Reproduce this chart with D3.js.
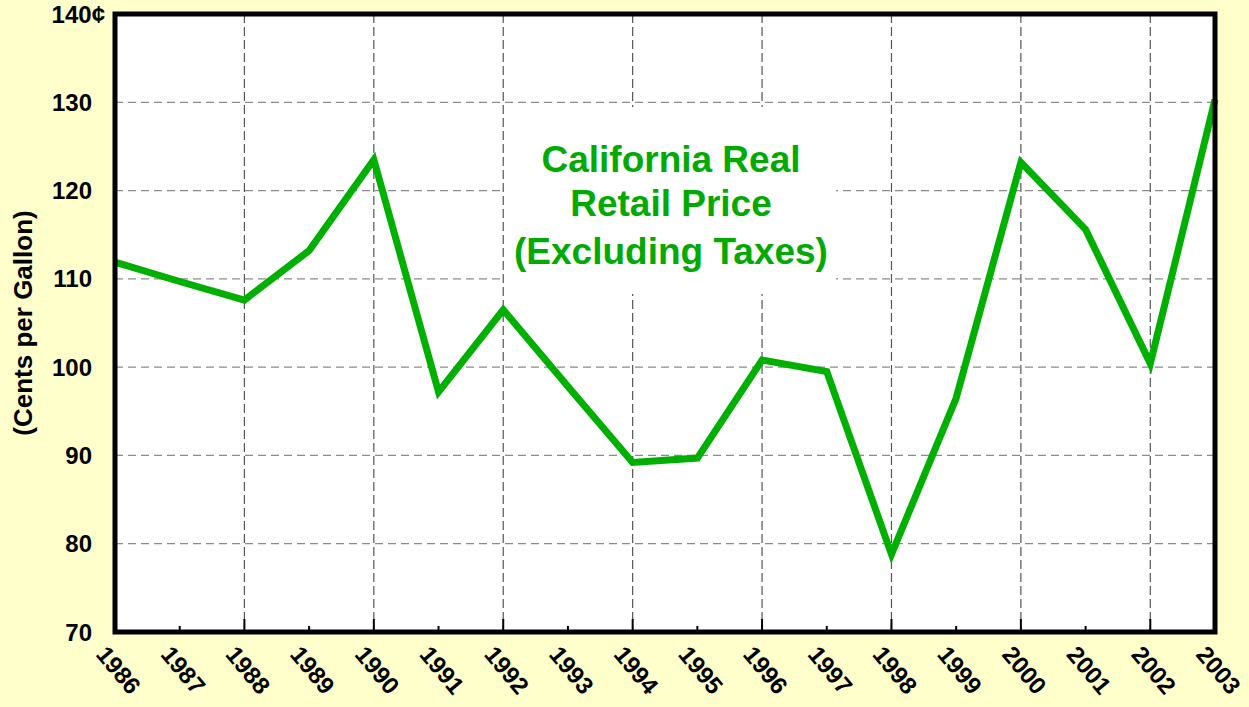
<!DOCTYPE html>
<html>
<head>
<meta charset="utf-8">
<script src="https://cdn.jsdelivr.net/npm/d3@7"></script>
<style>
  body { margin: 0; background: #ffffcc; }
  text { font-family: "Liberation Sans", Arial, sans-serif; font-weight: bold; }
</style>
</head>
<body>
<div id="chart"></div>
<script>
// data
var years = [1986, 1987, 1988, 1989, 1990, 1991, 1992, 1993, 1994, 1995,
             1996, 1997, 1998, 1999, 2000, 2001, 2002, 2003];
var prices = [111.9, 109.7, 107.6, 113.2, 123.5, 97.2, 106.5, 97.8, 89.2, 89.7,
              100.8, 99.5, 78.8, 96.5, 123.2, 115.6, 100.4, 130.3];
var yTicks = [70, 80, 90, 100, 110, 120, 130, 140];
var titleLines = ["California Real", "Retail Price", "(Excluding Taxes)"];

var W = 1249, H = 707;
var margin = {top: 14, right: 34, bottom: 75, left: 115},
    w = W - margin.left - margin.right,
    h = H - margin.top - margin.bottom;

var svg = d3.select("#chart").append("svg")
    .attr("width", W)
    .attr("height", H);

svg.append("rect").attr("width", W).attr("height", H).attr("fill", "#ffffcc");

var g = svg.append("g")
    .attr("transform", "translate(" + margin.left + "," + margin.top + ")");

var x = d3.scaleLinear().domain([1986, 2003]).range([0, w]);
var y = d3.scaleLinear().domain([70, 140]).range([h, 0]);

// plot background
g.append("rect").attr("width", w).attr("height", h).attr("fill", "white");

// horizontal grid
g.selectAll(".hgrid")
  .data(yTicks.filter(function(d) { return d > 70 && d < 140; }))
  .enter().append("line")
    .attr("x1", 0).attr("x2", w)
    .attr("y1", function(d) { return y(d); })
    .attr("y2", function(d) { return y(d); })
    .attr("stroke", "#8c8c8c")
    .attr("stroke-width", 1.2)
    .attr("stroke-dasharray", "8,5");

// vertical grid, every second year
g.selectAll(".vgrid")
  .data(years.filter(function(d) { return d % 2 == 0 && d > 1986 && d < 2003; }))
  .enter().append("line")
    .attr("x1", function(d) { return x(d); })
    .attr("x2", function(d) { return x(d); })
    .attr("y1", 0).attr("y2", h)
    .attr("stroke", "#555")
    .attr("stroke-width", 1.2)
    .attr("stroke-dasharray", "9,4");

// white box behind the title
g.append("rect")
  .attr("x", 390).attr("y", 93)
  .attr("width", 331).attr("height", 187)
  .attr("fill", "white");

// title
g.append("text")
  .attr("x", 556)
  .attr("y", 158)
  .attr("text-anchor", "middle")
  .attr("fill", "#00aa00")
  .style("font-size", "37px")
  .selectAll("tspan")
  .data(titleLines)
  .enter().append("tspan")
    .attr("x", 556)
    .attr("dy", function(d, i) { return i == 0 ? 0 : (i == 1 ? 44 : 48); })
    .text(function(d) { return d; });

// the line
g.append("path")
  .datum(years)
  .attr("fill", "none")
  .attr("stroke", "#00b000")
  .attr("stroke-width", 7)
  .attr("stroke-linejoin", "miter")
  .attr("d", d3.line()
    .x(function(d) { return x(d); })
    .y(function(d, i) { return y(prices[i]); }));

// bottom ticks
g.selectAll(".xtick")
  .data(years)
  .enter().append("line")
    .attr("x1", function(d) { return x(d); })
    .attr("x2", function(d) { return x(d); })
    .attr("y1", h)
    .attr("y2", function(d) { return d % 2 == 0 ? h - 13 : h - 6; })
    .attr("stroke", "black")
    .attr("stroke-width", 2);

// frame
g.append("rect")
  .attr("width", w).attr("height", h)
  .attr("fill", "none")
  .attr("stroke", "black")
  .attr("stroke-width", 5);

// y labels
g.selectAll(".ylab")
  .data(yTicks)
  .enter().append("text")
    .attr("x", function(d) { return d == 140 ? -10 : -23; })
    .attr("y", function(d) { return y(d); })
    .attr("dy", "0.36em")
    .attr("text-anchor", "end")
    .style("font-size", "24px")
    .text(function(d) { return d == 140 ? d + "\u00a2" : d; });

// x labels, rotated
g.selectAll(".xlab")
  .data(years)
  .enter().append("text")
    .attr("transform", function(d) {
      return "translate(" + (x(d) - 20) + "," + (h + 23) + ") rotate(50)";
    })
    .attr("text-anchor", "start")
    .style("font-size", "24px")
    .text(function(d) { return d; });

// y axis title
svg.append("text")
  .attr("transform", "translate(32,323) rotate(-90)")
  .attr("text-anchor", "middle")
  .style("font-size", "26px")
  .text("(Cents per Gallon)");
</script>
</body>
</html>
